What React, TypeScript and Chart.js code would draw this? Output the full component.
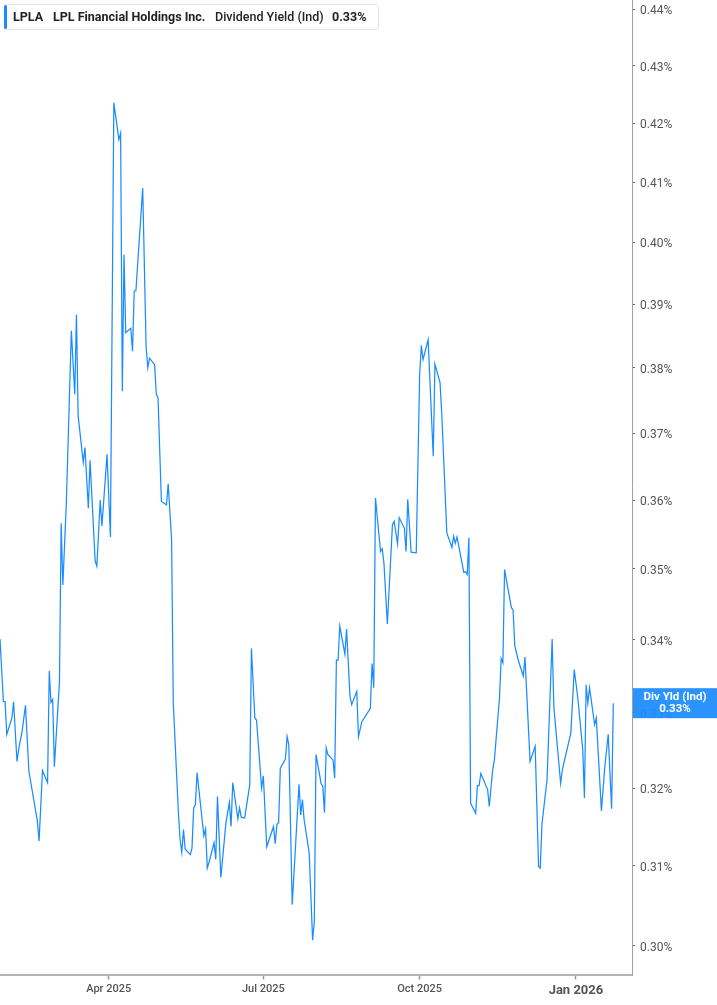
import React, { useEffect, useRef } from "react";
import { Chart, registerables } from "chart.js";

Chart.register(...registerables);

const TICKER = "LPLA";
const COMPANY = "LPL Financial Holdings Inc.";
const METRIC = "Dividend Yield (Ind)";
const METRIC_SHORT = "Div Yld (Ind)";

const DATES = [
  "2025-01-27", "2025-01-29", "2025-01-30", "2025-01-31", "2025-02-03", "2025-02-04", "2025-02-06", "2025-02-07",
  "2025-02-09", "2025-02-11", "2025-02-13", "2025-02-18", "2025-02-19", "2025-02-21", "2025-02-24", "2025-02-25",
  "2025-02-26", "2025-02-27", "2025-02-28", "2025-03-03", "2025-03-04", "2025-03-05", "2025-03-07", "2025-03-10",
  "2025-03-12", "2025-03-13", "2025-03-14", "2025-03-17", "2025-03-18", "2025-03-20", "2025-03-21", "2025-03-24",
  "2025-03-25", "2025-03-27", "2025-03-28", "2025-03-31", "2025-04-02", "2025-04-04", "2025-04-07", "2025-04-08",
  "2025-04-09", "2025-04-10", "2025-04-11", "2025-04-14", "2025-04-15", "2025-04-16", "2025-04-17", "2025-04-21",
  "2025-04-23", "2025-04-24", "2025-04-25", "2025-04-28", "2025-04-29", "2025-04-30", "2025-05-02", "2025-05-05",
  "2025-05-06", "2025-05-08", "2025-05-09", "2025-05-12", "2025-05-13", "2025-05-14", "2025-05-15", "2025-05-16",
  "2025-05-19", "2025-05-20", "2025-05-21", "2025-05-22", "2025-05-23", "2025-05-27", "2025-05-28", "2025-05-29",
  "2025-05-30", "2025-06-02", "2025-06-03", "2025-06-04", "2025-06-06", "2025-06-09", "2025-06-11", "2025-06-12",
  "2025-06-13", "2025-06-16", "2025-06-17", "2025-06-18", "2025-06-20", "2025-06-23", "2025-06-24", "2025-06-26",
  "2025-06-27", "2025-06-30", "2025-07-01", "2025-07-03", "2025-07-07", "2025-07-08", "2025-07-09", "2025-07-10",
  "2025-07-11", "2025-07-14", "2025-07-15", "2025-07-16", "2025-07-18", "2025-07-22", "2025-07-23", "2025-07-24",
  "2025-07-25", "2025-07-28", "2025-07-30", "2025-07-31", "2025-08-01", "2025-08-04", "2025-08-05", "2025-08-06",
  "2025-08-07", "2025-08-08", "2025-08-11", "2025-08-12", "2025-08-13", "2025-08-14", "2025-08-15", "2025-08-18",
  "2025-08-19", "2025-08-21", "2025-08-22", "2025-08-25", "2025-08-26", "2025-08-28", "2025-09-02", "2025-09-03",
  "2025-09-04", "2025-09-05", "2025-09-08", "2025-09-09", "2025-09-10", "2025-09-12", "2025-09-15", "2025-09-16",
  "2025-09-18", "2025-09-19", "2025-09-22", "2025-09-23", "2025-09-24", "2025-09-26", "2025-09-29", "2025-10-01",
  "2025-10-02", "2025-10-03", "2025-10-06", "2025-10-09", "2025-10-10", "2025-10-13", "2025-10-14", "2025-10-17",
  "2025-10-20", "2025-10-21", "2025-10-22", "2025-10-23", "2025-10-27", "2025-10-28", "2025-10-29", "2025-10-30",
  "2025-10-31", "2025-11-03", "2025-11-04", "2025-11-05", "2025-11-06", "2025-11-10", "2025-11-11", "2025-11-13",
  "2025-11-14", "2025-11-17", "2025-11-18", "2025-11-19", "2025-11-20", "2025-11-24", "2025-11-25", "2025-11-26",
  "2025-11-28", "2025-12-01", "2025-12-02", "2025-12-05", "2025-12-08", "2025-12-10", "2025-12-11", "2025-12-12",
  "2025-12-15", "2025-12-18", "2025-12-19", "2025-12-23", "2025-12-24", "2025-12-29", "2025-12-31", "2026-01-02",
  "2026-01-05", "2026-01-06", "2026-01-07", "2026-01-08", "2026-01-09", "2026-01-12", "2026-01-13", "2026-01-16",
  "2026-01-18", "2026-01-20", "2026-01-22", "2026-01-23",
];

const YIELDS = [
  0.3401, 0.3315, 0.3315, 0.3271, 0.3293, 0.3315, 0.3235, 0.3251,
  0.3275, 0.3310, 0.3222, 0.3157, 0.3131, 0.3223, 0.3207, 0.3357,
  0.3314, 0.3318, 0.3228, 0.3342, 0.3566, 0.3477, 0.3592, 0.3858,
  0.3759, 0.3884, 0.3726, 0.3656, 0.3678, 0.3588, 0.3659, 0.3512,
  0.3504, 0.3600, 0.3562, 0.3668, 0.3546, 0.4235, 0.4172, 0.4183,
  0.3764, 0.3980, 0.3855, 0.3862, 0.3826, 0.3921, 0.3922, 0.4090,
  0.3833, 0.3800, 0.3815, 0.3805, 0.3759, 0.3754, 0.3598, 0.3593,
  0.3624, 0.3542, 0.3313, 0.3168, 0.3133, 0.3117, 0.3146, 0.3121,
  0.3114, 0.3122, 0.3174, 0.3178, 0.3220, 0.3138, 0.3147, 0.3097,
  0.3104, 0.3129, 0.3108, 0.3189, 0.3085, 0.3155, 0.3181, 0.3150,
  0.3207, 0.3160, 0.3174, 0.3162, 0.3161, 0.3204, 0.3388, 0.3293,
  0.3290, 0.3200, 0.3216, 0.3124, 0.3150, 0.3128, 0.3153, 0.3155,
  0.3226, 0.3238, 0.3268, 0.3257, 0.3051, 0.3205, 0.3165, 0.3185,
  0.3159, 0.3116, 0.3007, 0.3030, 0.3244, 0.3206, 0.3202, 0.3168,
  0.3253, 0.3244, 0.3237, 0.3213, 0.3372, 0.3372, 0.3419, 0.3380,
  0.3415, 0.3322, 0.3311, 0.3329, 0.3268, 0.3288, 0.3306, 0.3367,
  0.3334, 0.3603, 0.3525, 0.3529, 0.3508, 0.3422, 0.3564, 0.3569,
  0.3536, 0.3574, 0.3559, 0.3525, 0.3601, 0.3524, 0.3523, 0.3789,
  0.3835, 0.3813, 0.3844, 0.3665, 0.3806, 0.3777, 0.3731, 0.3552,
  0.3531, 0.3547, 0.3537, 0.3546, 0.3495, 0.3496, 0.3492, 0.3545,
  0.3180, 0.3167, 0.3203, 0.3203, 0.3219, 0.3198, 0.3176, 0.3224,
  0.3237, 0.3320, 0.3374, 0.3368, 0.3499, 0.3445, 0.3442, 0.3392,
  0.3372, 0.3350, 0.3376, 0.3235, 0.3255, 0.3099, 0.3097, 0.3153,
  0.3211, 0.3401, 0.3308, 0.3206, 0.3224, 0.3273, 0.3359, 0.3322,
  0.3251, 0.3187, 0.3338, 0.3313, 0.3334, 0.3284, 0.3293, 0.3170,
  0.3228, 0.3271, 0.3173, 0.3313,
];

const Y_TICKS = [0.30, 0.31, 0.32, 0.33, 0.34, 0.35, 0.36, 0.37, 0.38, 0.39, 0.40, 0.41, 0.42, 0.43, 0.44];
const Y_MIN = 0.2965;
const Y_MAX = 0.4417;

const X_TICK_DATES = ["2025-04-01", "2025-07-01", "2025-10-01", "2026-01-01"];
const X_TICK_LABELS = ["Apr 2025", "Jul 2025", "Oct 2025", "Jan 2026"];
const X_MIN_DATE = "2025-01-27";
const X_MAX_DATE = "2026-02-03";

const LAST_LABEL = "0.33%";

const W = 717;
const H = 1005;
const FONT = "Roboto, 'Liberation Sans', Arial, sans-serif";
const LINE_BLUE = "#1a8cff";

function dayNum(s: string): number {
  const [y, m, d] = s.split("-").map(Number);
  return (Date.UTC(y, m - 1, d) - Date.UTC(2025, 0, 1)) / 86400000;
}

const lastValueBadge = {
  id: "lastValueBadge",
  afterDraw(chart: any) {
    const { ctx, chartArea, scales } = chart;
    const last = YIELDS[YIELDS.length - 1];
    const y = scales.y.getPixelForValue(last);
    const x0 = chartArea.right + 1;
    const w = chart.width - x0;
    ctx.save();
    ctx.fillStyle = "rgba(30,140,255,0.94)";
    ctx.fillRect(x0, y - 15, w, 30);
    ctx.fillStyle = "#ffffff";
    ctx.font = `bold 11.5px ${FONT}`;
    ctx.textAlign = "center";
    ctx.textBaseline = "middle";
    const cx = x0 + w / 2;
    ctx.fillText(METRIC_SHORT, cx, y - 6);
    ctx.fillText(LAST_LABEL, cx, y + 6);
    ctx.restore();
  },
};

export default function App() {
  const canvasRef = useRef<HTMLCanvasElement | null>(null);

  useEffect(() => {
    const canvas = canvasRef.current;
    if (!canvas) return;
    const points = DATES.map((d, i) => ({ x: dayNum(d), y: YIELDS[i] }));

    const chart = new Chart(canvas, {
      type: "line",
      data: {
        datasets: [
          {
            data: points,
            borderColor: LINE_BLUE,
            borderWidth: 1.25,
            pointRadius: 0,
            tension: 0,
            fill: false,
          },
        ],
      },
      options: {
        responsive: false,
        animation: false,
        events: [],
        layout: { padding: 0 },
        plugins: {
          legend: { display: false },
          tooltip: { enabled: false },
        },
        scales: {
          x: {
            type: "linear",
            min: dayNum(X_MIN_DATE),
            max: dayNum(X_MAX_DATE),
            afterBuildTicks: (s: any) => {
              s.ticks = X_TICK_DATES.map((d) => ({ value: dayNum(d) }));
            },
            afterFit: (s: any) => {
              s.height = 30.5;
              s.paddingLeft = 0;
              s.paddingRight = 0;
            },
            ticks: {
              autoSkip: false,
              maxRotation: 0,
              padding: 3,
              color: "#555555",
              callback: (_v: any, i: number) => X_TICK_LABELS[i],
              font: (ctx: any) =>
                ctx.index === X_TICK_LABELS.length - 1
                  ? { family: FONT, size: 13, weight: "bold" }
                  : { family: FONT, size: 11, weight: "500" },
            },
            grid: {
              drawOnChartArea: false,
              drawTicks: true,
              tickLength: 5,
              tickColor: "#9a9a9a",
              tickWidth: 1.5,
            },
            border: { color: "#b3b3b3", width: 2 },
          },
          y: {
            type: "logarithmic",
            position: "right",
            min: Y_MIN,
            max: Y_MAX,
            bounds: "data",
            afterBuildTicks: (s: any) => {
              s.ticks = Y_TICKS.map((v) => ({ value: v }));
            },
            afterFit: (s: any) => {
              s.width = 85;
              s.paddingTop = 0;
              s.paddingBottom = 0;
            },
            ticks: {
              autoSkip: false,
              padding: 5,
              labelOffset: 2,
              color: "#555555",
              font: { family: FONT, size: 12 },
              callback: (v: any) => Number(v).toFixed(2) + "%",
            },
            grid: {
              drawOnChartArea: false,
              drawTicks: true,
              tickLength: 3,
              tickColor: "#666666",
            },
            border: { color: "#9e9e9e", width: 1 },
          },
        },
      },
      plugins: [lastValueBadge],
    } as any);

    return () => chart.destroy();
  }, []);

  const textBase: React.CSSProperties = {
    position: "absolute",
    top: 0,
    lineHeight: "24px",
    fontSize: 12.5,
    color: "#222222",
    whiteSpace: "nowrap",
  };

  return (
    <div
      style={{
        position: "fixed",
        left: 0,
        top: 0,
        width: W,
        height: H,
        background: "#ffffff",
        overflow: "hidden",
        fontFamily: FONT,
      }}
    >
      <canvas
        ref={canvasRef}
        width={W}
        height={H}
        style={{ position: "absolute", left: 0, top: 0, width: W, height: H }}
      />
      <div
        style={{
          position: "absolute",
          left: 4,
          top: 4,
          width: 375,
          height: 26,
          boxSizing: "border-box",
          background: "#ffffff",
          border: "1px solid #e3e3e3",
          borderRadius: 3,
        }}
      >
        <div
          style={{
            position: "absolute",
            left: -1,
            top: 0,
            width: 3,
            height: 24,
            background: LINE_BLUE,
            borderRadius: 2,
          }}
        />
        <span style={{ ...textBase, left: 8, fontWeight: 700 }}>{TICKER}</span>
        <span style={{ ...textBase, left: 48, fontWeight: 700 }}>{COMPANY}</span>
        <span style={{ ...textBase, left: 210, fontWeight: 500 }}>{METRIC}</span>
        <span style={{ ...textBase, left: 327, fontWeight: 700 }}>{LAST_LABEL}</span>
      </div>
    </div>
  );
}
